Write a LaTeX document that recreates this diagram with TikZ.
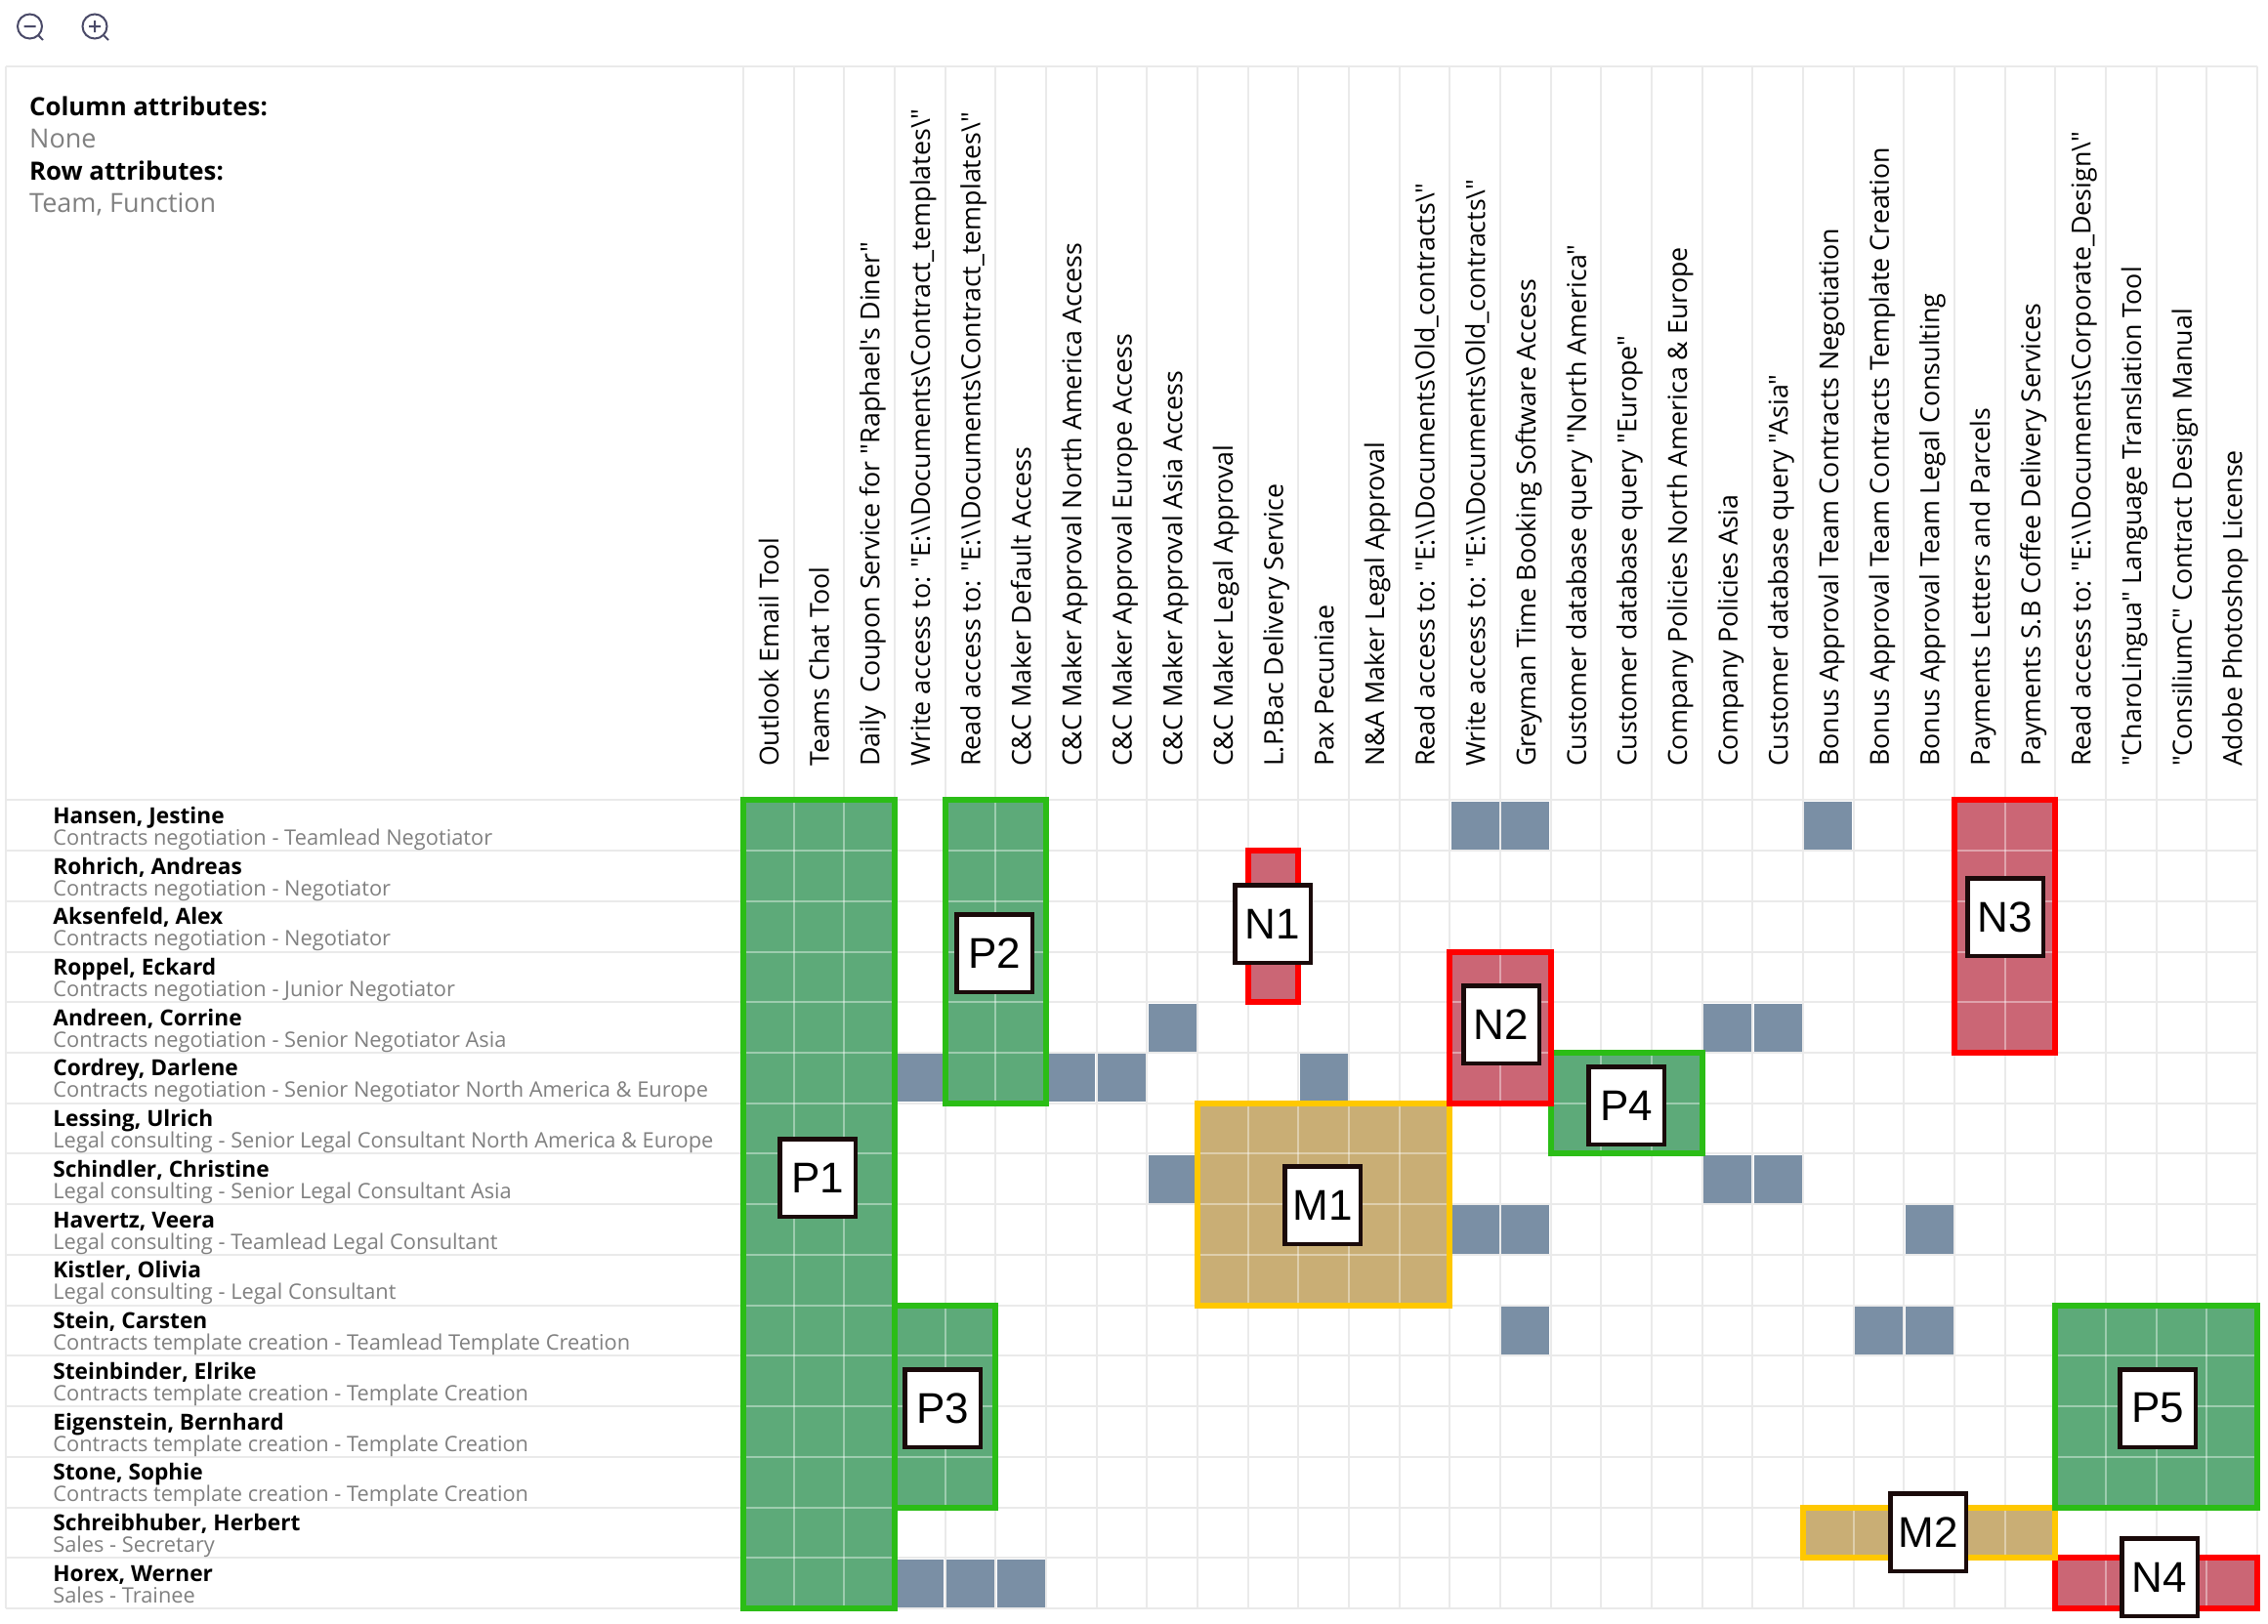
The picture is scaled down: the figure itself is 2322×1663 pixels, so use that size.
\documentclass[tikz,border=0pt]{standalone}
\usepackage{fontspec}
\newfontfamily\opensans{Open Sans}
\newfontfamily\tagfont{Liberation Sans}
\usetikzlibrary{positioning}
\definecolor{gridgray}{HTML}{EAEAEA}
\definecolor{subgray}{HTML}{808080}
\definecolor{iconblue}{HTML}{4A4A68}
\definecolor{cellblue}{HTML}{7A8FA5}
\definecolor{posfill}{HTML}{5DAA79}
\definecolor{posline}{HTML}{2BBD16}
\definecolor{midfill}{HTML}{C9AE75}
\definecolor{midline}{HTML}{FFC800}
\definecolor{negfill}{HTML}{CB6675}
\definecolor{negline}{HTML}{FF0000}
\definecolor{tagline}{HTML}{1A0A0A}
\tikzstyle{gridline} = [line width=2pt, gridgray]
\tikzstyle{cellline} = [line width=2pt, white, opacity=0.4]
\tikzstyle{posarea} = [line width=6pt, draw=posline, fill=posfill]
\tikzstyle{midarea} = [line width=6pt, draw=midline, fill=midfill]
\tikzstyle{negarea} = [line width=6pt, draw=negline, fill=negfill]
\tikzstyle{headbold} = [anchor=base west, inner sep=0pt,
font=\opensans\bfseries\fontsize{25.8}{30}\selectfont]
\tikzstyle{headgray} = [anchor=base west, inner sep=0pt, text=subgray,
font=\opensans\fontsize{27}{32}\selectfont]
\tikzstyle{rowname} = [anchor=base west, inner sep=0pt,
font=\opensans\bfseries\fontsize{22.7}{27}\selectfont]
\tikzstyle{rowfunc} = [anchor=base west, inner sep=0pt, text=subgray,
font=\opensans\fontsize{21.8}{26}\selectfont]
\tikzstyle{collabel} = [anchor=base west, inner sep=0pt, rotate=90,
font=\opensans\fontsize{26.8}{32}\selectfont]
\tikzstyle{tag} = [rectangle, draw=tagline, fill=white, line width=4.5pt,
inner sep=0pt, minimum width=77.5pt, minimum height=79.5pt,
font=\tagfont\fontsize{44}{48}\selectfont]
\tikzstyle{icon} = [circle, draw=iconblue, line width=2pt, inner sep=0pt, minimum size=25pt]
\newcommand{\bsl}{\textbackslash}
\begin{document}
\begin{tikzpicture}[x=1pt, y=-1pt]
			\useasboundingbox (0,0) rectangle (2322,1663);

			% zoom icons
			\node (zoomout) [icon] at (30.5,27) {};
			\node (zoomin) [icon] at (97,27) {};
			\coordinate (zoomoutend) at (44,41);
			\coordinate (zoominend) at (111,41);
			\draw[iconblue, line width=2pt] (zoomout) -- (zoomoutend)
				(24.5,27) -- (36.5,27);
			\draw[iconblue, line width=2pt] (zoomin) -- (zoominend)
				(91,27) -- (103,27) (97,21) -- (97,33);

			% attributes
			\node (colhead) [headbold] at (30,118) {Column attributes:};
			\node (colval) [headgray] at (30,151) {None};
			\node (rowhead) [headbold] at (30,184) {Row attributes:};
			\node (rowval) [headgray] at (30,217) {Team, Function};

			\begin{scope}[shift={(761,819.3)}, x=51.67pt, y=-51.73pt]
				% frame and grid
				\foreach \c in {0,...,30}
					\draw[gridline] (\c,-14.52) -- (\c,16);
				\foreach \r in {0,...,16}
					\draw[gridline] (-14.62,\r) -- (30,\r);
				\draw[gridline] (-14.62,-14.52) -- (30,-14.52);
				\draw[gridline] (-14.62,-14.52) -- (-14.62,16);

				% single entries
				\foreach \c/\r in {14/0,15/0,21/0,8/4,19/4,20/4,3/5,6/5,7/5,11/5,8/7,19/7,20/7,
						14/8,15/8,23/8,15/10,22/10,23/10,3/15,4/15,5/15}
					\fill[cellblue] (\c+0.025,\r+0.025) rectangle (\c+0.975,\r+0.975);

				% marked areas
				\foreach \xa/\xb/\ya/\yb/\kind in {9/14/6/10/midarea, 0/3/0/16/posarea, 4/6/0/6/posarea, 3/5/10/14/posarea,
						16/19/5/7/posarea, 10/11/1/4/negarea, 14/16/3/6/negarea, 24/26/0/5/negarea,
						26/30/15/16/negarea, 21/26/14/15/midarea, 26/30/10/14/posarea}
				{
					\fill[\kind, draw=none] (\xa,\ya) rectangle (\xb,\yb);
					\foreach \k in {\xa,...,\xb}
						\draw[cellline] (\k,\ya) -- (\k,\yb);
					\foreach \k in {\ya,...,\yb}
						\draw[cellline] (\xa,\k) -- (\xb,\k);
					\draw[\kind, fill=none] (\xa,\ya) rectangle (\xb,\yb);
				}

				% row labels
				\foreach \who/\what [count=\r from 0] in {
						{Hansen, Jestine}/{Contracts negotiation - Teamlead Negotiator},
						{Rohrich, Andreas}/{Contracts negotiation - Negotiator},
						{Aksenfeld, Alex}/{Contracts negotiation - Negotiator},
						{Roppel, Eckard}/{Contracts negotiation - Junior Negotiator},
						{Andreen, Corrine}/{Contracts negotiation - Senior Negotiator Asia},
						{Cordrey, Darlene}/{Contracts negotiation - Senior Negotiator North America \& Europe},
						{Lessing, Ulrich}/{Legal consulting - Senior Legal Consultant North America \& Europe},
						{Schindler, Christine}/{Legal consulting - Senior Legal Consultant Asia},
						{Havertz, Veera}/{Legal consulting - Teamlead Legal Consultant},
						{Kistler, Olivia}/{Legal consulting - Legal Consultant},
						{Stein, Carsten}/{Contracts template creation - Teamlead Template Creation},
						{Steinbinder, Elrike}/{Contracts template creation - Template Creation},
						{Eigenstein, Bernhard}/{Contracts template creation - Template Creation},
						{Stone, Sophie}/{Contracts template creation - Template Creation},
						{Schreibhuber, Herbert}/{Sales - Secretary},
						{Horex, Werner}/{Sales - Trainee}}
				{
					\node (name\r) [rowname] at (-13.68,\r+0.464) {\who};
					\node (func\r) [rowfunc] at (-13.68,\r+0.889) {\what};
				}

				% column labels
				\foreach \what [count=\c from 0] in {
						Outlook Email Tool,
						Teams Chat Tool,
						{Daily\ \ Coupon Service for "Raphael\char39 s Diner"},
						{Write access to: "E:\bsl\bsl Documents\bsl Contract\_templates\bsl "},
						{Read access to: "E:\bsl\bsl Documents\bsl Contract\_templates\bsl "},
						C\&C Maker Default Access,
						C\&C Maker Approval North America Access,
						C\&C Maker Approval Europe Access,
						C\&C Maker Approval Asia Access,
						C\&C Maker Legal Approval,
						L.P.Bac Delivery Service,
						Pax Pecuniae,
						N\&A Maker Legal Approval,
						{Read access to: "E:\bsl\bsl Documents\bsl Old\_contracts\bsl "},
						{Write access to: "E:\bsl\bsl Documents\bsl Old\_contracts\bsl "},
						Greyman Time Booking Software Access,
						{Customer database query "North America"},
						{Customer database query "Europe"},
						Company Policies North America \& Europe,
						Company Policies Asia,
						{Customer database query "Asia"},
						Bonus Approval Team Contracts Negotiation,
						Bonus Approval Team Contracts Template Creation,
						Bonus Approval Team Legal Consulting,
						Payments Letters and Parcels,
						Payments S.B Coffee Delivery Services,
						{Read access to: "E:\bsl\bsl Documents\bsl Corporate\_Design\bsl "},
						{"CharoLingua" Language Translation Tool},
						{"ConsiliumC" Contract Design Manual},
						Adobe Photoshop License}
					\node (col\c) [collabel] at (\c+0.697,-0.66) {\what};
			\end{scope}

			% area tags
			\node (p1) [tag] at (837,1206) {P1};
			\node (p2) [tag] at (1018,976) {P2};
			\node (p3) [tag] at (965,1442) {P3};
			\node (p4) [tag] at (1665,1132) {P4};
			\node (p5) [tag] at (2209,1442) {P5};
			\node (m1) [tag] at (1354,1234) {M1};
			\node (m2) [tag] at (1974,1569) {M2};
			\node (n1) [tag] at (1303,946) {N1};
			\node (n2) [tag] at (1537,1049) {N2};
			\node (n3) [tag] at (2053,939) {N3};
			\node (n4) [tag] at (2211,1615) {N4};
		\end{tikzpicture}
\end{document}
